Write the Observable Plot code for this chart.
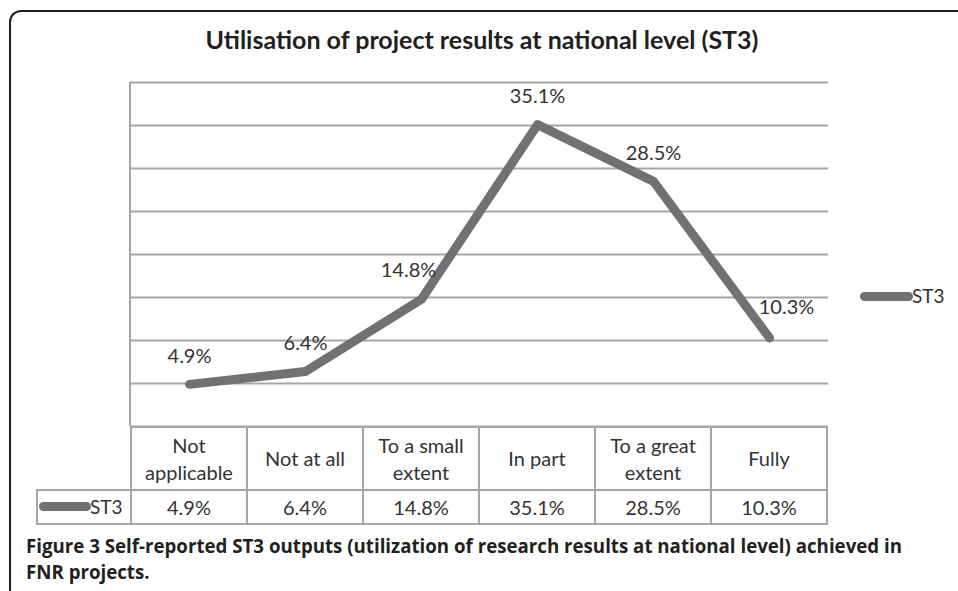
<!DOCTYPE html>
<html><head><meta charset="utf-8">
<script src="https://cdn.jsdelivr.net/npm/d3@7"></script>
<script src="https://cdn.jsdelivr.net/npm/@observablehq/plot@0.6"></script>
<style>
body{margin:0;background:#fff;}
#wrap{position:relative;width:958px;height:591px;overflow:hidden;font-family:Lato,"Open Sans",sans-serif;color:#231f20;}
#frame{position:absolute;left:9px;top:10px;width:1100px;height:800px;border-left:2px solid #231f20;border-top:2px solid #231f20;border-top-left-radius:12px;box-sizing:border-box;}
#title{position:absolute;top:24px;left:0;width:964px;text-align:center;font-weight:bold;font-size:25px;line-height:30px;}
#chart{position:absolute;left:0;top:0;}
#yline{position:absolute;left:129px;top:82px;width:2px;height:344px;background:#a6a6a6;}
.cell{position:absolute;box-sizing:border-box;border:2px solid #a6a6a6;display:flex;align-items:center;justify-content:center;text-align:center;font-size:20px;line-height:27px;color:#333;}
.sw{position:absolute;height:9px;border-radius:5px;background:#717174;}
.lg{position:absolute;font-size:19px;line-height:22px;color:#333;}
#caption{position:absolute;left:26px;top:533px;font-weight:bold;font-size:18.7px;line-height:26px;font-family:"Open Sans",sans-serif;color:#231f20;white-space:nowrap;}
</style></head>
<body>
<div id="wrap">
  <div id="frame"></div>
  <div id="title"></div>
  <div id="chart"></div>
  <div id="yline"></div>
  <div id="table"></div>
  <div id="legend"></div>
  <div id="caption"></div>
</div>
<script>
const titleText = "Utilisation of project results at national level (ST3)";
const seriesName = "ST3";
const categories = ["Not applicable", "Not at all", "To a small extent", "In part", "To a great extent", "Fully"];
const categoryLines = [["Not", "applicable"], ["Not at all"], ["To a small", "extent"], ["In part"], ["To a great", "extent"], ["Fully"]];
const values = [4.9, 6.4, 14.8, 35.1, 28.5, 10.3];
const yTicks = [0, 5, 10, 15, 20, 25, 30, 35, 40];
const captionBold = "Figure 3";
const captionText = " Self-reported ST3 outputs (utilization of research results at national level) achieved in";
const captionText2 = "FNR projects.";

const data = categories.map((c, i) => ({cat: c, val: values[i]}));
const fmt = v => v.toFixed(1) + "%";
const lineColor = "#717174";

document.getElementById("title").textContent = titleText;

const plot = Plot.plot({
  width: 958,
  height: 427,
  marginTop: 82,
  marginBottom: 1,
  marginLeft: 130,
  marginRight: 130,
  x: {type: "band", domain: categories, padding: 0, axis: null},
  y: {domain: [0, 40], axis: null},
  style: {fontFamily: "Lato, sans-serif", fontSize: "20px", color: "#333", background: "transparent", overflow: "visible"},
  marks: [
    Plot.ruleY(yTicks, {stroke: "#a6a6a6", strokeWidth: 2, strokeOpacity: 1}),
    Plot.line(data, {x: "cat", y: "val", stroke: lineColor, strokeWidth: 9, strokeLinecap: "round", strokeLinejoin: "round"}),
    Plot.text(data.filter((d, i) => i !== 2 && i !== 5), {x: "cat", y: "val", text: d => fmt(d.val), dy: -28, fill: "#333"}),
    Plot.text(data.filter((d, i) => i === 2), {x: "cat", y: "val", text: d => fmt(d.val), dy: -29, dx: -13, fill: "#333"}),
    Plot.text(data.filter((d, i) => i === 5), {x: "cat", y: "val", text: d => fmt(d.val), dy: -30, dx: 17, fill: "#333"})
  ]
});
document.getElementById("chart").appendChild(plot);

// Data table under the chart, columns from the plot's x scale
const xs = plot.scale("x");
const bw = xs.bandwidth;
const table = document.getElementById("table");
const yBottom = 426, headH = 63, rowH = 36;
categories.forEach((c, i) => {
  const left = xs.apply(c) - 1;
  const h = document.createElement("div");
  h.className = "cell";
  h.style.left = left + "px"; h.style.top = yBottom + "px";
  h.style.width = (bw + 2) + "px"; h.style.height = (headH + 2) + "px";
  h.innerHTML = categoryLines[i].join("<br>");
  table.appendChild(h);
  const v = document.createElement("div");
  v.className = "cell";
  v.style.left = left + "px"; v.style.top = (yBottom + headH) + "px";
  v.style.width = (bw + 2) + "px"; v.style.height = rowH + "px";
  v.textContent = fmt(values[i]);
  table.appendChild(v);
});
const lc = document.createElement("div");
lc.className = "cell";
lc.style.left = "36px"; lc.style.top = (yBottom + headH) + "px";
lc.style.width = (xs.apply(categories[0]) - 1 - 36 + 2) + "px"; lc.style.height = rowH + "px";
table.appendChild(lc);
const sw1 = document.createElement("div");
sw1.className = "sw"; sw1.style.left = "39px"; sw1.style.top = (yBottom + headH + 13) + "px"; sw1.style.width = "52px";
table.appendChild(sw1);
const t1 = document.createElement("div");
t1.className = "lg"; t1.style.left = "90px"; t1.style.top = (yBottom + headH + 7) + "px"; t1.textContent = seriesName;
table.appendChild(t1);

// Right legend
const legend = document.getElementById("legend");
const sw2 = document.createElement("div");
sw2.className = "sw"; sw2.style.left = "860px"; sw2.style.top = "292px"; sw2.style.width = "53px";
legend.appendChild(sw2);
const t2 = document.createElement("div");
t2.className = "lg"; t2.style.left = "912px"; t2.style.top = "285px"; t2.textContent = seriesName;
legend.appendChild(t2);

document.getElementById("caption").innerHTML = "<span>" + captionBold + "</span>" + captionText + "<br>" + captionText2;
</script>
</body></html>
